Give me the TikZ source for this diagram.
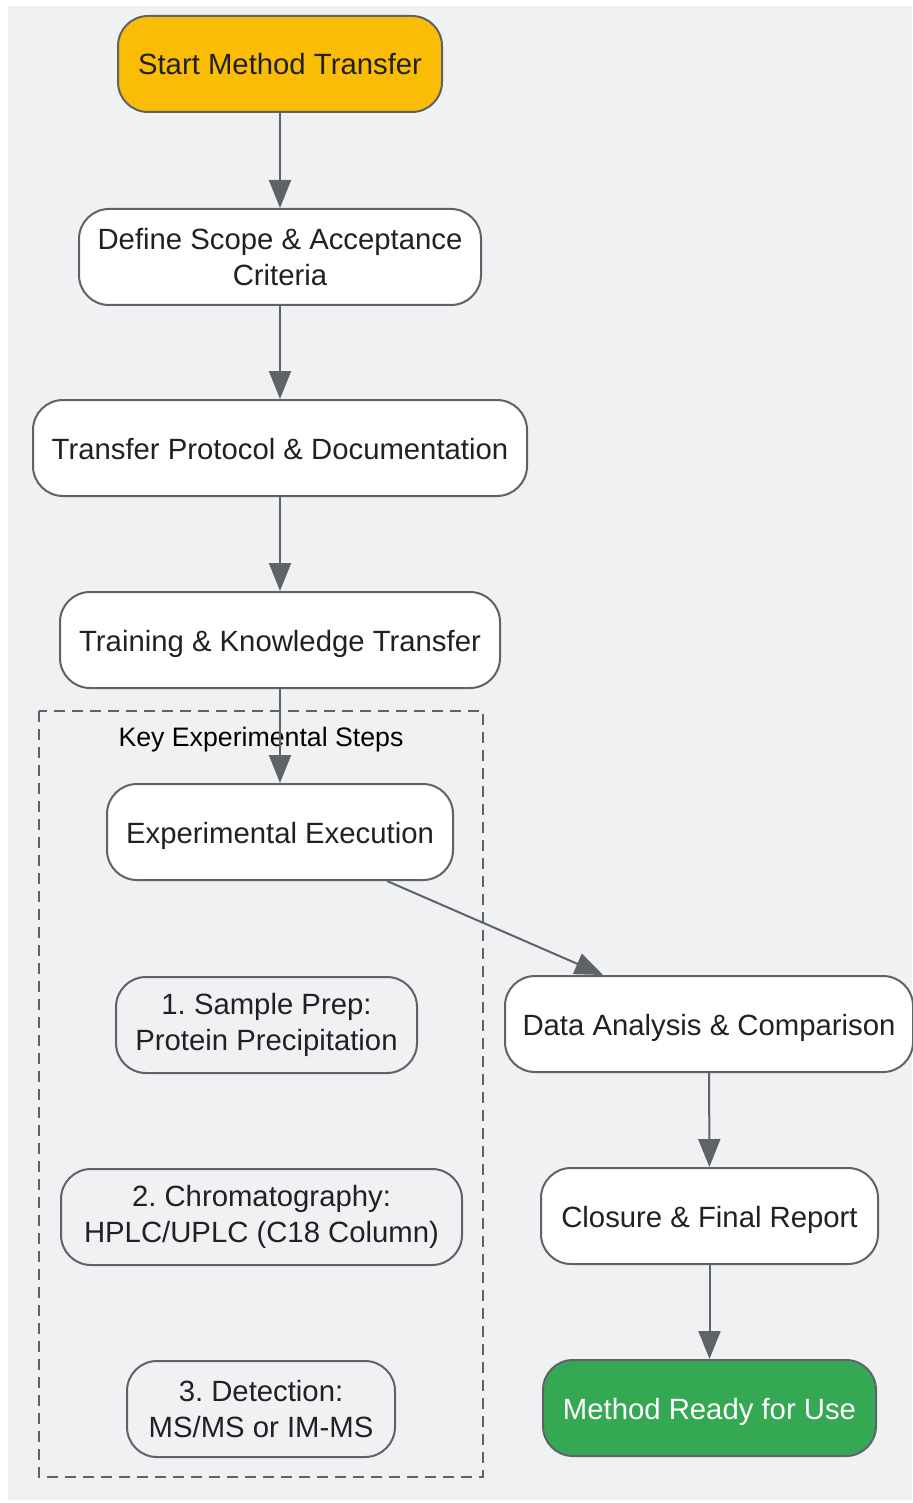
\documentclass[tikz,border=0pt]{standalone}
\usepackage{fontspec}
\setmainfont{Liberation Sans}
\usetikzlibrary{arrows.meta,calc}
\definecolor{bg}{HTML}{F0F1F3}
\definecolor{edge}{HTML}{5F6368}
\definecolor{txt}{HTML}{202124}
\definecolor{startc}{HTML}{FABC05}
\definecolor{endc}{HTML}{34A853}
\frenchspacing
\tikzset{
  box/.style={draw=edge, line width=2pt, rounded corners=30pt, fill=white, text=txt,
    minimum height=96pt, inner sep=0pt, align=center,
    font=\fontsize{29.3}{36}\selectfont},
  oneline/.style={text height=28pt, text depth=6pt},
  stepbox/.style={box, fill=bg},
  conn/.style={draw=edge, line width=2pt, -{Triangle[length=28pt,width=22pt]}},
}
\begin{document}
\begin{tikzpicture}[x=1pt,y=-1pt]
\useasboundingbox (0,0) rectangle (912,1503);
\fill[bg] (8,6) rectangle (912,1500);
% group
\draw[edge, line width=2.6pt, dash pattern=on 11pt off 7pt] (39,711) rectangle (483,1477);
\node[font=\fontsize{26.7}{32}\selectfont, text=black, inner sep=0pt, anchor=base] (grp) at (261,746) {Key Experimental Steps};
% nodes
\node[box, oneline, fill=startc, minimum width=324pt] (start) at (280,64) {Start Method Transfer};
\node[box, minimum width=402pt] (scope) at (280,257) {Define Scope \& Acceptance\\Criteria};
\node[box, oneline, minimum width=494pt] (proto) at (280,448) {Transfer Protocol \& Documentation};
\node[box, oneline, minimum width=440pt] (train) at (280,640) {Training \& Knowledge Transfer};
\node[box, oneline, minimum width=346pt] (exec) at (280,832) {Experimental Execution};
\node[stepbox, minimum width=301pt] (s1) at (266.5,1025) {1. Sample Prep:\\Protein Precipitation};
\node[stepbox, minimum width=401pt] (s2) at (261.5,1217) {2. Chromatography:\\HPLC/UPLC (C18 Column)};
\node[stepbox, minimum width=268pt] (s3) at (261,1409) {3. Detection:\\MS/MS or IM-MS};
\node[box, oneline, minimum width=408pt] (data) at (709,1024) {Data Analysis \& Comparison};
\node[box, oneline, minimum width=337pt] (close) at (709.5,1216) {Closure \& Final Report};
\node[box, oneline, fill=endc, text=white, minimum width=333pt] (ready) at (709.5,1408) {Method Ready for Use};
% connectors
\draw[conn] (start) -- (scope);
\draw[conn] (scope) -- (proto);
\draw[conn] (proto) -- (train);
\draw[conn] (train) -- (exec);
\draw[conn] ($(exec.south)+(107,0)$) -- ($(data.north)+(-106,0)$);
\draw[conn] (data) -- (close);
\draw[conn] (close) -- (ready);
\end{tikzpicture}
\end{document}
